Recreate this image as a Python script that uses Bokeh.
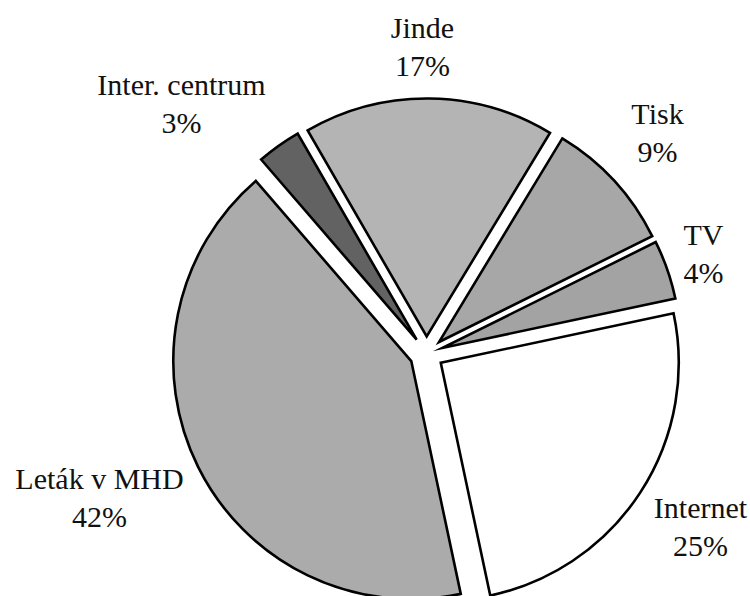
import math
from bokeh.plotting import figure
from bokeh.models import Range1d, ColumnDataSource
from bokeh.core.properties import value
from bokeh.embed import file_html
from bokeh.resources import INLINE

# ---- data (clockwise order, starting at the right) ----
categories = ["Internet", "Leták v MHD", "Inter. centrum", "Jinde", "Tisk", "TV"]
percents = [25, 42, 3, 17, 9, 4]
fills = ["#ffffff", "#ababab", "#626262", "#b4b4b4", "#a7a7a7", "#a3a3a3"]

# ---- layout (page pixel coordinates, y downwards in the picture) ----
W, H = 750, 596
CX, CY = 426, 353          # pie centre (picture px)
R = 238                    # radius px
EXPLODE = 17               # explode offset px
START_DEG = 12             # where the first slice starts, going clockwise
name_pos = [(700, 507), (99, 478), (181, 84), (422, 27), (657, 113), (703, 234)]
LINE_GAP = 38

def to_data(xi, yi):
    return xi, 596 - yi

p = figure(width=W, height=H, output_backend="svg", toolbar_location=None,
           x_range=Range1d(0, W), y_range=Range1d(596 - H, 596),
           min_border=0)
p.axis.visible = False
p.grid.visible = False
p.outline_line_color = None
p.background_fill_color = "white"
p.border_fill_color = "white"

total = sum(percents)
cx, cy = to_data(CX, CY)
xs, ys, starts, ends = [], [], [], []
a = math.radians(START_DEG)
for pc in percents:
    span = 2 * math.pi * pc / total
    a_end = a - span              # clockwise
    mid = (a + a_end) / 2
    xs.append(cx + EXPLODE * math.cos(mid))
    ys.append(cy + EXPLODE * math.sin(mid))
    starts.append(a_end)
    ends.append(a)
    a = a_end

src = ColumnDataSource(dict(x=xs, y=ys, start=starts, end=ends, fill=fills))
p.wedge(x="x", y="y", radius=R, start_angle="start", end_angle="end",
        fill_color="fill", line_color="black", line_width=2.6,
        line_join="miter", source=src)

nx = [to_data(*q)[0] for q in name_pos]
ny = [to_data(*q)[1] for q in name_pos]
py = [v - LINE_GAP for v in ny]
pct_text = [f"{v}%" for v in percents]

p.text(x=nx, y=ny, text=categories, text_font=value("Liberation Serif"),
       text_font_size="30px", text_align="center", text_baseline="middle",
       text_color="#111111")
p.text(x=nx, y=py, text=pct_text, text_font=value("Liberation Serif"),
       text_font_size="30px", text_align="center", text_baseline="middle",
       text_color="#111111")

open("out.html", "w").write(file_html(p, INLINE))
